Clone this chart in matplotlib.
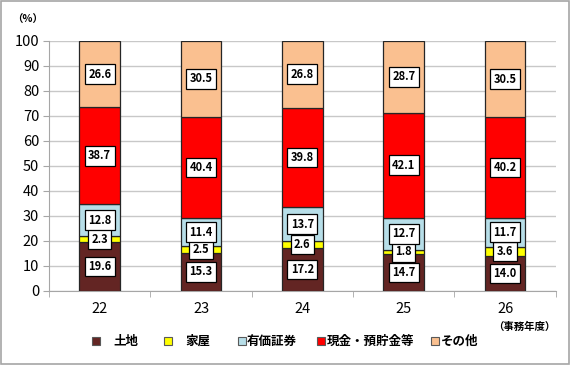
import matplotlib
matplotlib.use("Agg")
import matplotlib.pyplot as plt
import numpy as np
from matplotlib.patches import Rectangle

plt.rcParams['font.family'] = ['Noto Sans CJK JP', 'DejaVu Sans']

years = ["22", "23", "24", "25", "26"]
series_names = ["土地", "家屋", "有価証券", "現金・預貯金等", "その他"]
land = [19.6, 15.3, 17.2, 14.7, 14.0]
house = [2.3, 2.5, 2.6, 1.8, 3.6]
securities = [12.8, 11.4, 13.7, 12.7, 11.7]
cash = [38.7, 40.4, 39.8, 42.1, 40.2]
other = [26.6, 30.5, 26.8, 28.7, 30.5]
colors = ["#632523", "#FFFF00", "#B7DEE8", "#FF0000", "#FAC090"]
yticks = [0, 10, 20, 30, 40, 50, 60, 70, 80, 90, 100]

W, H = 570, 365
fig = plt.figure(figsize=(W / 100, H / 100), dpi=100)
fig.patches.append(Rectangle((0.002, 0.003), 0.996, 0.994, transform=fig.transFigure,
                             fill=False, edgecolor="#A6A6A6", linewidth=1.2))
ax = fig.add_axes([0.086, 0.203, 0.889, 0.685])

x = np.arange(len(years))
bottom = np.zeros(len(years))
for vals, col in zip([land, house, securities, cash, other], colors):
    vals = np.array(vals)
    ax.bar(x, vals, 0.4, bottom=bottom, color=col, edgecolor="#262626",
           linewidth=0.9, zorder=3)
    for xi, b, v in zip(x, bottom, vals):
        ax.text(xi, b + v / 2, f"{v:.1f}", ha="center", va="center", fontsize=8,
                fontweight="bold", zorder=5,
                bbox=dict(boxstyle="square,pad=0.3", facecolor="white",
                          edgecolor="black", linewidth=0.9))
    bottom = bottom + vals

ax.set_xlim(-0.5, len(years) - 0.5)
ax.set_ylim(0, 100)
ax.set_yticks(yticks)
ax.set_yticklabels([str(t) for t in yticks], fontsize=10.5)
ax.set_xticks(x)
ax.set_xticklabels(years, fontsize=10.5)
ax.set_xticks(np.arange(-0.5, len(years), 1.0), minor=True)
ax.tick_params(axis="x", which="major", length=0, pad=8)
ax.tick_params(axis="x", which="minor", length=4, color="#A6A6A6", direction="out")
ax.tick_params(axis="y", length=4, color="#A6A6A6", pad=3)
ax.yaxis.grid(True, color="#C8C8C8", linewidth=1.0, zorder=0)
ax.set_axisbelow(True)
for s in ["top", "right"]:
    ax.spines[s].set_visible(False)
ax.spines["left"].set_color("#A6A6A6")
ax.spines["bottom"].set_color("#A6A6A6")

fig.text(28 / W, 1 - 20 / H, "（%）", fontsize=7.5, fontweight="bold", ha="center", va="center")
fig.text(524 / W, 1 - 327 / H, "（事務年度）", fontsize=7.5, fontweight="bold",
         ha="center", va="center")

# legend (manual placement)
marker_x = [96, 168, 242, 321, 435]
text_x = [113, 185, 247, 327, 441]
ly = 341
ms = 8
for mx, tx, col, name in zip(marker_x, text_x, colors, series_names):
    fig.patches.append(Rectangle(((mx - ms / 2) / W, 1 - (ly + ms / 2) / H), ms / W, ms / H,
                                 transform=fig.transFigure, facecolor=col,
                                 edgecolor="#595959", linewidth=0.8))
    fig.text(tx / W, 1 - ly / H, name, fontsize=9, fontweight="bold",
             ha="left", va="center")

fig.savefig("out.png", dpi=100)
